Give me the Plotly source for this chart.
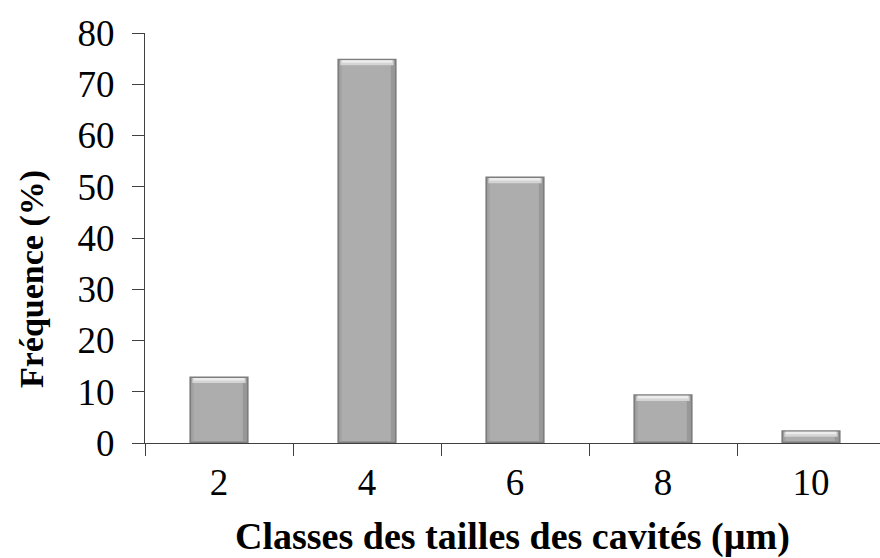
import plotly.graph_objects as go

# Size classes (µm) and frequency (%) of cavities
classes = ["2", "4", "6", "8", "10"]
frequence = [13, 75, 52, 9.5, 2.5]

y_ticks = [0, 10, 20, 30, 40, 50, 60, 70, 80]

serif = "Liberation Serif, Times New Roman, serif"

# bevel layers derived from the values (in % units)
edge = 0.3
hl_depth = 1.3
hl_height = 1.0
body_top = [v - edge for v in frequence]
hl_base = [max(v - hl_depth, 0) for v in frequence]
hl_len = [min(hl_height, v - b - 0.2) for v, b in zip(frequence, hl_base)]

fig = go.Figure()

# outer edge of each column (dark rim)
fig.add_trace(go.Bar(
    x=classes, y=frequence, width=0.4,
    marker=dict(color="#7d7d7d", line=dict(width=0)),
    hoverinfo="skip", showlegend=False,
))
# main body
fig.add_trace(go.Bar(
    x=classes, y=[t - edge for t in body_top], base=edge, width=0.372,
    marker=dict(color="#adadad", line=dict(width=0)),
    showlegend=False,
))
# right-side shading
fig.add_trace(go.Bar(
    x=classes, y=[t - edge for t in body_top], base=edge, width=0.025,
    offset=0.161,
    marker=dict(color="#989898", line=dict(width=0)),
    hoverinfo="skip", showlegend=False,
))
# left-side shading
fig.add_trace(go.Bar(
    x=classes, y=[t - edge for t in body_top], base=edge, width=0.015,
    offset=-0.186,
    marker=dict(color="#a2a2a2", line=dict(width=0)),
    hoverinfo="skip", showlegend=False,
))
# top bevel highlight
fig.add_trace(go.Bar(
    x=classes, y=hl_len, base=hl_base, width=0.36,
    marker=dict(color="#d4d4d4", line=dict(width=0)),
    hoverinfo="skip", showlegend=False,
))
fig.add_trace(go.Bar(
    x=classes, y=[h * 0.5 for h in hl_len], base=[b + h * 0.5 for b, h in zip(hl_base, hl_len)],
    width=0.34,
    marker=dict(color="#ececec", line=dict(width=0)),
    hoverinfo="skip", showlegend=False,
))

fig.update_layout(
    width=880, height=558,
    margin=dict(l=145, r=0, t=33, b=115),
    paper_bgcolor="white", plot_bgcolor="white",
    barmode="overlay",
    font=dict(family=serif, color="black", size=37),
    xaxis=dict(
        type="category",
        range=[-0.5, -0.5 + 735 / 148],
        tickson="boundaries",
        ticks="outside", ticklen=12, tickwidth=1, tickcolor="#404040",
        showline=True, linecolor="#404040", linewidth=1,
        showgrid=False, zeroline=False,
        tickfont=dict(family=serif, size=37, color="black"),
        ticklabelstandoff=7,
        title=dict(text="<b>Classes des tailles des cavités (µm)</b>",
                   font=dict(family=serif, size=38, color="black"),
                   standoff=22),
    ),
    yaxis=dict(
        range=[0, 80],
        tickvals=y_ticks,
        ticks="outside", ticklen=12, tickwidth=1, tickcolor="#404040",
        showline=True, linecolor="#404040", linewidth=1,
        showgrid=False, zeroline=False,
        tickfont=dict(family=serif, size=37, color="black"),
        ticklabelstandoff=10,
    ),
    annotations=[dict(
        text="<b>Fréquence (%)</b>",
        textangle=-90,
        xref="paper", yref="paper",
        x=0, y=0.40, xanchor="center", yanchor="middle",
        xshift=-113, showarrow=False,
        font=dict(family=serif, size=34, color="black"),
    )],
)

fig.write_html("out.html")
